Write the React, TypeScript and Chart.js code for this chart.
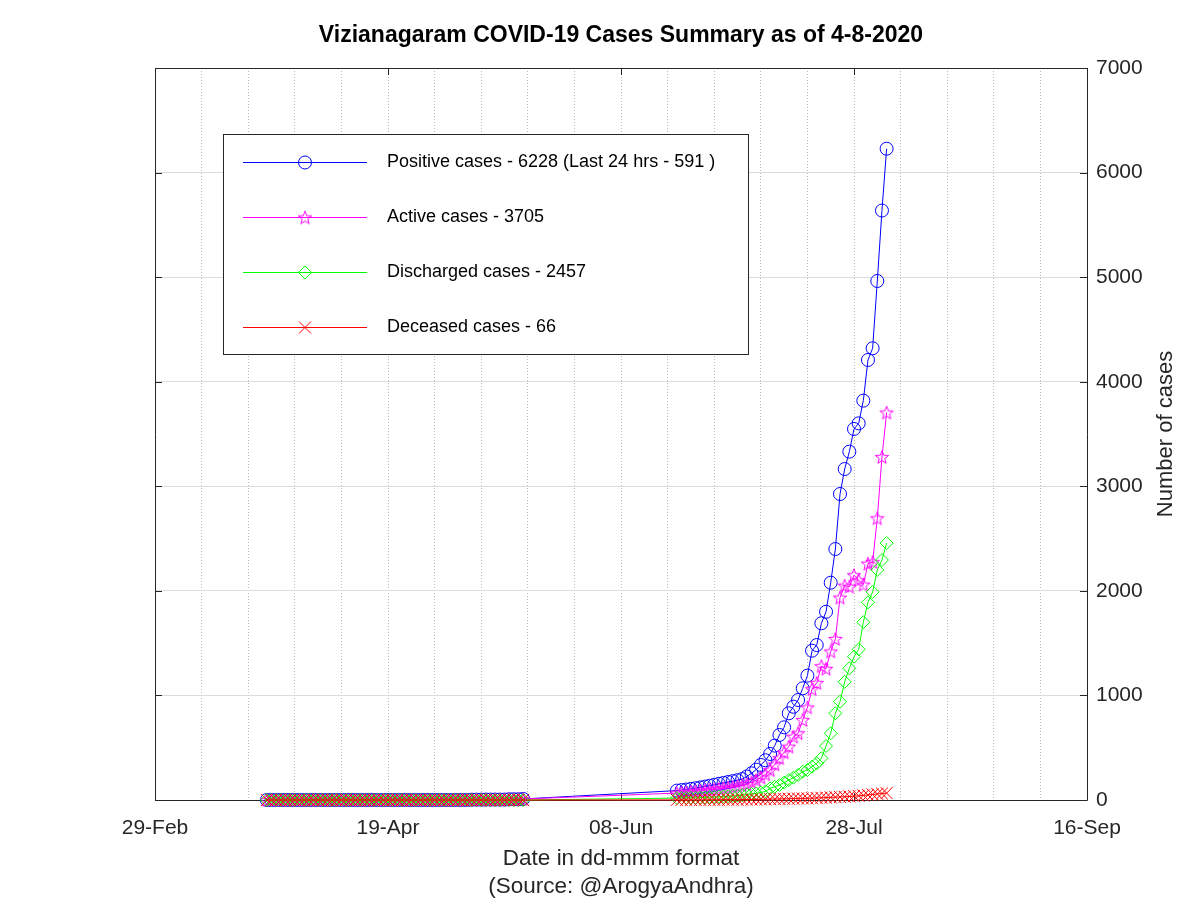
import React, { useEffect, useRef } from "react";
import { Chart, registerables } from "chart.js";

Chart.register(...registerables);

// ---------- DATA ----------
const chartTitle = "Vizianagaram COVID-19 Cases Summary as of 4-8-2020";
const xTitle = ["Date in dd-mmm format", "(Source: @ArogyaAndhra)"];
const yTitle = "Number of cases";
const xTickLabels = ["29-Feb", "19-Apr", "08-Jun", "28-Jul", "16-Sep"];
const xMinDate = "2020-02-29";
const xMaxDate = "2020-09-16";
const yMax = 7000;

const dates = [
  // early period
  "2020-03-24", "2020-03-25", "2020-03-26", "2020-03-27", "2020-03-28", "2020-03-29", "2020-03-30", "2020-03-31",
  "2020-04-01", "2020-04-02", "2020-04-03", "2020-04-04", "2020-04-05", "2020-04-06", "2020-04-07", "2020-04-08",
  "2020-04-09", "2020-04-10", "2020-04-11", "2020-04-12", "2020-04-13", "2020-04-14", "2020-04-15", "2020-04-16",
  "2020-04-17", "2020-04-18", "2020-04-19", "2020-04-20", "2020-04-21", "2020-04-22", "2020-04-23", "2020-04-24",
  "2020-04-25", "2020-04-26", "2020-04-27", "2020-04-28", "2020-04-29", "2020-04-30", "2020-05-01", "2020-05-02",
  "2020-05-03", "2020-05-04", "2020-05-05", "2020-05-06", "2020-05-07", "2020-05-08", "2020-05-09", "2020-05-10",
  "2020-05-11", "2020-05-12", "2020-05-13", "2020-05-14", "2020-05-15", "2020-05-16", "2020-05-17", "2020-05-18",
  // later period
  "2020-06-20", "2020-06-21", "2020-06-22", "2020-06-23", "2020-06-24", "2020-06-25", "2020-06-26", "2020-06-27",
  "2020-06-28", "2020-06-29", "2020-06-30", "2020-07-01", "2020-07-02", "2020-07-03", "2020-07-04", "2020-07-05",
  "2020-07-06", "2020-07-07", "2020-07-08", "2020-07-09", "2020-07-10", "2020-07-11", "2020-07-12", "2020-07-13",
  "2020-07-14", "2020-07-15", "2020-07-16", "2020-07-17", "2020-07-18", "2020-07-19", "2020-07-20", "2020-07-21",
  "2020-07-22", "2020-07-23", "2020-07-24", "2020-07-25", "2020-07-26", "2020-07-27", "2020-07-28", "2020-07-29",
  "2020-07-30", "2020-07-31", "2020-08-01", "2020-08-02", "2020-08-03", "2020-08-04",
];

const positive = [
  0, 0, 0, 0, 0, 0, 0, 0,
  0, 0, 0, 0, 0, 0, 0, 0,
  0, 0, 0, 0, 0, 0, 0, 0,
  0, 0, 0, 0, 0, 0, 0, 0,
  0, 0, 0, 0, 0, 0, 0, 0,
  0, 0, 0, 0, 3, 3, 3, 4,
  4, 4, 4, 4, 7, 7, 7, 10,
  90, 95, 100, 106, 112, 120, 128, 136,
  145, 155, 163, 172, 180, 190, 200, 225,
  255, 290, 335, 380, 440, 520, 622, 695,
  829, 892, 956, 1068, 1189, 1428, 1482, 1690,
  1800, 2078, 2400, 2926, 3165, 3331, 3548, 3602,
  3819, 4208, 4320, 4963, 5637, 6228,
];

const active = [
  0, 0, 0, 0, 0, 0, 0, 0,
  0, 0, 0, 0, 0, 0, 0, 0,
  0, 0, 0, 0, 0, 0, 0, 0,
  0, 0, 0, 0, 0, 0, 0, 0,
  0, 0, 0, 0, 0, 0, 0, 0,
  0, 0, 0, 0, 3, 3, 3, 4,
  4, 4, 4, 4, 7, 7, 7, 10,
  66, 70, 74, 78, 82, 87, 92, 97,
  102, 108, 113, 118, 124, 132, 140, 152,
  170, 190, 215, 245, 285, 340, 400, 455,
  510, 605, 638, 765, 885, 1060, 1120, 1280,
  1255, 1420, 1540, 1935, 2050, 2040, 2150, 2100,
  2060, 2260, 2275, 2694, 3280, 3705,
];

const discharged = [
  0, 0, 0, 0, 0, 0, 0, 0,
  0, 0, 0, 0, 0, 0, 0, 0,
  0, 0, 0, 0, 0, 0, 0, 0,
  0, 0, 0, 0, 0, 0, 0, 0,
  0, 0, 0, 0, 0, 0, 0, 0,
  0, 0, 0, 0, 0, 0, 0, 0,
  0, 0, 0, 0, 0, 0, 0, 0,
  18, 19, 20, 21, 22, 23, 25, 27,
  29, 31, 33, 36, 39, 42, 46, 52,
  58, 64, 72, 82, 112, 127, 143, 166,
  191, 213, 239, 271, 287, 319, 351, 399,
  516, 638, 829, 940, 1130, 1259, 1370, 1441,
  1700, 1890, 1990, 2200, 2295, 2457,
];

const deceased = [
  0, 0, 0, 0, 0, 0, 0, 0,
  0, 0, 0, 0, 0, 0, 0, 0,
  0, 0, 0, 0, 0, 0, 0, 0,
  0, 0, 0, 0, 0, 0, 0, 0,
  0, 0, 0, 0, 0, 0, 0, 0,
  0, 0, 0, 0, 0, 0, 0, 0,
  0, 0, 0, 0, 0, 0, 0, 0,
  1, 1, 1, 1, 1, 1, 2, 2,
  2, 2, 3, 3, 3, 3, 4, 4,
  5, 5, 6, 7, 8, 9, 10, 11,
  12, 13, 14, 15, 16, 17, 19, 21,
  23, 25, 27, 29, 31, 34, 37, 40,
  44, 48, 53, 58, 62, 66,
];

const seriesLabels = [
  "Positive cases - 6228 (Last 24 hrs - 591 )",
  "Active cases - 3705",
  "Discharged cases - 2457",
  "Deceased cases - 66",
];
const seriesColors = ["#0000ff", "#ff00ff", "#00ff00", "#ff0000"];

// ---------- helpers ----------
const FONT = "'Liberation Sans', Arial, Helvetica, sans-serif";
const DAY = 86400000;
function dayOf(s: string): number {
  const [y, m, d] = s.split("-").map(Number);
  const [y0, m0, d0] = xMinDate.split("-").map(Number);
  return Math.round((Date.UTC(y, m - 1, d) - Date.UTC(y0, m0 - 1, d0)) / DAY);
}

function makeStar(color: string, r: number): HTMLCanvasElement {
  const size = Math.ceil(r * 2 + 4);
  const c = document.createElement("canvas");
  c.width = size;
  c.height = size;
  const g = c.getContext("2d")!;
  g.strokeStyle = color;
  g.lineWidth = 1;
  g.beginPath();
  for (let i = 0; i < 10; i++) {
    const rad = i % 2 === 0 ? r : r * 0.42;
    const a = -Math.PI / 2 + (i * Math.PI) / 5;
    const px = size / 2 + rad * Math.cos(a);
    const py = size / 2 + 0.6 + rad * Math.sin(a);
    if (i === 0) g.moveTo(px, py);
    else g.lineTo(px, py);
  }
  g.closePath();
  g.stroke();
  return c;
}

function drawMarker(ctx: CanvasRenderingContext2D, kind: number, x: number, y: number, color: string, star: HTMLCanvasElement) {
  ctx.save();
  ctx.strokeStyle = color;
  ctx.lineWidth = 1;
  ctx.beginPath();
  if (kind === 0) {
    ctx.arc(x, y, 6.5, 0, Math.PI * 2);
    ctx.stroke();
  } else if (kind === 1) {
    ctx.drawImage(star, x - star.width / 2, y - star.height / 2);
  } else if (kind === 2) {
    ctx.moveTo(x, y - 6.5);
    ctx.lineTo(x + 6.5, y);
    ctx.lineTo(x, y + 6.5);
    ctx.lineTo(x - 6.5, y);
    ctx.closePath();
    ctx.stroke();
  } else {
    const d = 6;
    ctx.moveTo(x - d, y - d);
    ctx.lineTo(x + d, y + d);
    ctx.moveTo(x + d, y - d);
    ctx.lineTo(x - d, y + d);
    ctx.stroke();
  }
  ctx.restore();
}

export default function App() {
  const ref = useRef<HTMLCanvasElement | null>(null);

  useEffect(() => {
    if (!ref.current) return;
    const star = makeStar(seriesColors[1], 7);
    const xs = dates.map(dayOf);
    const xMax = dayOf(xMaxDate);
    const seriesValues = [positive, active, discharged, deceased];
    const styles: any[] = ["circle", star, "rectRot", "crossRot"];

    const datasets = seriesValues.map((vals, i) => ({
      label: seriesLabels[i],
      data: vals.map((v, j) => ({ x: xs[j], y: v })),
      borderColor: seriesColors[i],
      backgroundColor: "rgba(0,0,0,0)",
      borderWidth: 1,
      pointStyle: styles[i],
      pointRadius: i === 3 ? 8.5 : 6.5,
      pointBorderWidth: 1,
      pointBorderColor: seriesColors[i],
      pointBackgroundColor: "rgba(0,0,0,0)",
      tension: 0,
      clip: false,
      order: 3 - i,
    }));

    const framePlugin = {
      id: "frame",
      beforeDatasetsDraw(chart: any) {
        const { ctx, chartArea: a } = chart;
        const xs2 = chart.scales.x;
        const ys = chart.scales.y;
        ctx.save();
        ctx.strokeStyle = "#262626";
        ctx.lineWidth = 1;
        ctx.beginPath();
        ctx.rect(Math.round(a.left) + 0.5, Math.round(a.top) + 0.5, Math.round(a.right - a.left), Math.round(a.bottom - a.top));
        const tl = 7;
        for (let k = 0; k < xTickLabels.length; k++) {
          const px = Math.round(xs2.getPixelForValue(k * 50)) + 0.5;
          ctx.moveTo(px, a.bottom);
          ctx.lineTo(px, a.bottom - tl);
          ctx.moveTo(px, a.top);
          ctx.lineTo(px, a.top + tl);
        }
        for (let v = 0; v <= yMax; v += 1000) {
          const py = Math.round(ys.getPixelForValue(v)) + 0.5;
          ctx.moveTo(a.left, py);
          ctx.lineTo(a.left + tl, py);
          ctx.moveTo(a.right, py);
          ctx.lineTo(a.right - tl, py);
        }
        ctx.stroke();
        ctx.restore();
      },
      afterDraw(chart: any) {
        const { ctx, chartArea: a } = chart;
        ctx.save();
        ctx.fillStyle = "#262626";
        ctx.textAlign = "center";
        ctx.textBaseline = "middle";
        // x-axis title lines
        ctx.font = `22.5px ${FONT}`;
        const cx = (a.left + a.right) / 2;
        ctx.fillText(xTitle[0], cx, a.bottom + 59);
        ctx.fillText(xTitle[1], cx, a.bottom + 87);
        // y-axis title (reads bottom to top)
        ctx.font = `22px ${FONT}`;
        ctx.translate(1166, (a.top + a.bottom) / 2);
        ctx.rotate(-Math.PI / 2);
        ctx.fillText(yTitle, 0, 0);
        ctx.restore();

        // legend
        ctx.save();
        const bx = a.left + 68, by = a.top + 66, bw = 525, bh = 220;
        ctx.fillStyle = "#ffffff";
        ctx.fillRect(bx, by, bw, bh);
        ctx.strokeStyle = "#262626";
        ctx.lineWidth = 1;
        ctx.strokeRect(bx + 0.5, by + 0.5, bw, bh);
        ctx.font = `18px ${FONT}`;
        ctx.textBaseline = "middle";
        ctx.textAlign = "left";
        for (let i = 0; i < seriesLabels.length; i++) {
          const ry = by + 28 + i * 55;
          ctx.strokeStyle = seriesColors[i];
          ctx.lineWidth = 1;
          ctx.beginPath();
          ctx.moveTo(bx + 20, ry + 0.5);
          ctx.lineTo(bx + 144, ry + 0.5);
          ctx.stroke();
          drawMarker(ctx, i, bx + 82, ry + 0.5, seriesColors[i], star);
          ctx.fillStyle = "#000000";
          ctx.fillText(seriesLabels[i], bx + 164, ry);
        }
        ctx.restore();
      },
    };

    const chart = new Chart(ref.current, {
      type: "line",
      data: { datasets: datasets as any },
      options: {
        animation: false,
        responsive: false,
        devicePixelRatio: 1,
        layout: { padding: { left: 155, right: 0, top: 0, bottom: 0 } },
        plugins: {
          legend: { display: false },
          tooltip: { enabled: false },
          title: {
            display: true,
            text: chartTitle,
            fullSize: false,
            color: "#000000",
            font: { family: FONT, size: 23, weight: "bold", lineHeight: 1.2 },
            padding: { top: 22, bottom: 18.4 },
          },
        },
        scales: {
          x: {
            type: "linear",
            position: "bottom",
            min: 0,
            max: xMax,
            afterFit: (s: any) => {
              s.height = 100;
            },
            ticks: {
              stepSize: 10,
              autoSkip: false,
              maxRotation: 0,
              padding: 16,
              color: "#262626",
              font: { family: FONT, size: 21 },
              callback: (v: any) => (Number(v) % 50 === 0 ? xTickLabels[Number(v) / 50] : ""),
            },
            grid: {
              color: "#bcbcbc",
              lineWidth: 1,
              drawTicks: false,
            },
            border: { display: false, dash: [1, 2] },
            title: { display: false },
          },
          y: {
            type: "linear",
            position: "right",
            min: 0,
            max: yMax,
            afterFit: (s: any) => {
              s.width = 113;
            },
            ticks: {
              stepSize: 1000,
              padding: 9,
              color: "#262626",
              font: { family: FONT, size: 21 },
              callback: (v: any) => String(v),
            },
            grid: {
              color: "#dcdcdc",
              lineWidth: 1,
              drawTicks: false,
            },
            border: { display: false },
          },
        },
      },
      plugins: [framePlugin],
    });
    return () => chart.destroy();
  }, []);

  return (
    <div style={{ position: "absolute", left: 0, top: 0, width: 1200, height: 900, background: "#ffffff" }}>
      <canvas ref={ref} width={1200} height={900} style={{ width: 1200, height: 900 }} />
    </div>
  );
}
